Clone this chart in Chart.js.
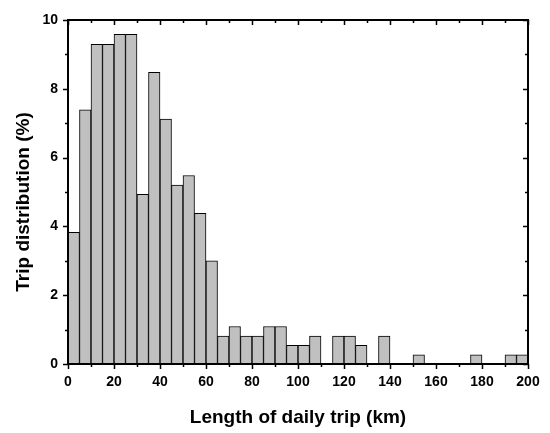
<!DOCTYPE html>
<html>
<head>
<meta charset="utf-8">
<script src="https://cdn.jsdelivr.net/npm/chart.js@4/dist/chart.umd.min.js"></script>
<style>
  html, body { margin: 0; padding: 0; background: #fff; }
  #wrap { width: 550px; height: 433px; }
</style>
</head>
<body>
<div id="wrap"><canvas id="tripChart"></canvas></div>
<script>
// histogram bins (km), 5 km wide
const binStart = [0, 5, 10, 15, 20, 25, 30, 35, 40, 45, 50, 55, 60, 65, 70, 75, 80, 85, 90, 95,
                  100, 105, 110, 115, 120, 125, 130, 135, 140, 145, 150, 155, 160, 165, 170, 175, 180, 185, 190, 195];
const binWidth = 5;
// share of trips (%) in each bin
const tripPct = [3.83, 7.39, 9.29, 9.29, 9.58, 9.58, 4.93, 8.48, 7.12, 5.20,
                 5.48, 4.38, 3.00, 0.81, 1.09, 0.81, 0.81, 1.09, 1.09, 0.54,
                 0.54, 0.81, 0, 0.81, 0.81, 0.54, 0, 0.81, 0, 0,
                 0.27, 0, 0, 0, 0, 0.27, 0, 0, 0.27, 0.27];
const xTicks = [0, 20, 40, 60, 80, 100, 120, 140, 160, 180, 200];
const yTicks = [0, 2, 4, 6, 8, 10];
const yTitle = 'Trip distribution (%)';

const font = { family: '"Liberation Sans", Arial, sans-serif', weight: 'bold' };

// frame + origin-style ticks (major/minor), and the y title
const frameTicks = {
    id: 'frameTicks',
    afterDraw(chart) {
        const { ctx, chartArea: a, scales: { x, y } } = chart;
        ctx.save();
        ctx.strokeStyle = '#000';
        ctx.lineWidth = 1.5;
        ctx.beginPath();
        for (let v = 0; v <= 200; v += 10) {
            const px = Math.round(x.getPixelForValue(v)) + 0.5;
            const len = v % 20 === 0 ? 5 : 3;
            ctx.moveTo(px, a.bottom); ctx.lineTo(px, a.bottom + len);
            ctx.moveTo(px, a.top); ctx.lineTo(px, a.top + len);
        }
        for (let v = 0; v <= 10; v += 1) {
            const py = Math.round(y.getPixelForValue(v)) + 0.5;
            const len = v % 2 === 0 ? 5 : 3;
            ctx.moveTo(a.left, py); ctx.lineTo(a.left - len, py);
            ctx.moveTo(a.right, py); ctx.lineTo(a.right - len, py);
        }
        ctx.stroke();
        ctx.lineWidth = 2;
        ctx.strokeRect(a.left, a.top, a.right - a.left, a.bottom - a.top);

        // y title, a little below the axis centre like the original
        ctx.translate(24, (a.top + a.bottom) / 2 + 10);
        ctx.rotate(-Math.PI / 2);
        ctx.fillStyle = '#000';
        ctx.font = 'bold 19px "Liberation Sans", Arial, sans-serif';
        ctx.textAlign = 'center';
        ctx.textBaseline = 'middle';
        ctx.fillText(yTitle, 0, 0);
        ctx.restore();
    }
};

const ctxTrip = document.getElementById('tripChart').getContext('2d');
new Chart(ctxTrip, {
    type: 'bar',
    data: {
        datasets: [{
            data: binStart.map((b, i) => ({ x: b + binWidth / 2, y: tripPct[i] })),
            backgroundColor: '#c0c0c0',
            borderColor: '#000',
            borderWidth: 1,
            borderSkipped: false,
            barPercentage: 1,
            categoryPercentage: 1
        }]
    },
    options: {
        responsive: true,
        maintainAspectRatio: false,
        animation: false,
        layout: { padding: { left: 0, top: 20, right: 22, bottom: 0 } },
        plugins: { legend: { display: false }, tooltip: { enabled: false } },
        scales: {
            x: {
                type: 'linear',
                offset: false,
                min: 0, max: 200,
                afterBuildTicks: s => { s.ticks = xTicks.map(v => ({ value: v })); },
                afterFit: s => { s.height = 69; },
                grid: { display: false, drawTicks: false },
                border: { display: false },
                ticks: { color: '#000', font: { ...font, size: 14 }, padding: 10, maxRotation: 0 },
                title: { display: true, text: 'Length of daily trip (km)', color: '#000',
                         font: { ...font, size: 19 }, padding: { top: 10 } }
            },
            y: {
                min: 0, max: 10,
                afterBuildTicks: s => { s.ticks = yTicks.map(v => ({ value: v })); },
                afterFit: s => { s.width = 68; },
                grid: { display: false, drawTicks: false },
                border: { display: false },
                ticks: { color: '#000', font: { ...font, size: 14 }, padding: 10 }
            }
        }
    },
    plugins: [frameTicks]
});
</script>
</body>
</html>
